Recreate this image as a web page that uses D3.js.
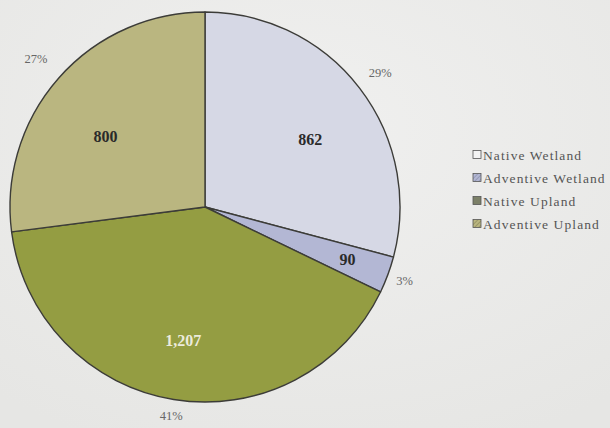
<!DOCTYPE html>
<html><head><meta charset="utf-8">
<script src="https://cdn.jsdelivr.net/npm/d3@7"></script>
<style>html,body{margin:0;padding:0;background:#ebebe9;}svg{display:block;}</style>
</head><body>
<svg id="c" width="610" height="428"></svg>
<script>
const categories = ["Native Wetland", "Adventive Wetland", "Native Upland", "Adventive Upland"];
const values = [862, 90, 1207, 800];
const valueLabels = ["862", "90", "1,207", "800"];
const percentLabels = ["29%", "3%", "41%", "27%"];

const fills = ["#d6d8e5", "#b3b7d4", "#949d42", "#bab680"];
const labelColors = ["#2a2a2a", "#2a2a2a", "#ecebdc", "#2a2a2a"];
const labelRadius = [125, 152, 135, 122];
const labelShiftDeg = [5, 0, 0, -6];
const pctRadius = [221, 213, 211, 225];

const svg = d3.select("#c");
const cx = 205, cy = 207, r = 195;

const defs = svg.append("defs");
const grad = defs.append("radialGradient").attr("id","bg").attr("cx","50%").attr("cy","30%").attr("r","80%");
grad.append("stop").attr("offset","0%").attr("stop-color","#f0f0ef");
grad.append("stop").attr("offset","100%").attr("stop-color","#e6e6e4");
svg.append("rect").attr("width",610).attr("height",428).attr("fill","url(#bg)");

function hatch(id, color, bg) {
  const p = defs.append("pattern").attr("id", id).attr("patternUnits","userSpaceOnUse")
    .attr("width",3).attr("height",3).attr("patternTransform","rotate(45)");
  p.append("rect").attr("width",3).attr("height",3).attr("fill",bg);
  p.append("line").attr("x1",0).attr("y1",0).attr("x2",0).attr("y2",3).attr("stroke",color).attr("stroke-width",0.8);
}
hatch("hw", "#6c708c", "#b3b7d4");
hatch("hu", "#6a6a40", "#bab680");

const pie = d3.pie().sort(null).value(d => d)(values);
const arc = d3.arc().innerRadius(0).outerRadius(r);
const g = svg.append("g").attr("transform", `translate(${cx},${cy})`);

g.selectAll("path.s").data(pie).join("path").attr("class","s")
  .attr("d", arc).attr("fill", (d,i) => fills[i])
  .attr("stroke", "#3c3c38").attr("stroke-width", 1.4).attr("stroke-linejoin","round");

const mid = d => (d.startAngle + d.endAngle) / 2;
const la = (d,i) => mid(d) + labelShiftDeg[i] * Math.PI / 180;
g.selectAll("text.v").data(pie).join("text").attr("class","v")
  .attr("x", (d,i) => Math.sin(la(d,i)) * labelRadius[i])
  .attr("y", (d,i) => -Math.cos(la(d,i)) * labelRadius[i])
  .attr("dy","0.35em").attr("text-anchor","middle")
  .attr("font-family","'Liberation Serif', 'DejaVu Serif', serif")
  .attr("font-weight","bold").attr("font-size",16)
  .attr("fill",(d,i) => labelColors[i])
  .text((d,i) => valueLabels[i]);

g.selectAll("text.p").data(pie).join("text").attr("class","p")
  .attr("x", (d,i) => Math.sin(mid(d)) * pctRadius[i])
  .attr("y", (d,i) => -Math.cos(mid(d)) * pctRadius[i])
  .attr("dy","0.35em").attr("text-anchor","middle")
  .attr("font-family","'Liberation Serif', 'DejaVu Serif', serif")
  .attr("font-size",12.5).attr("fill","#666")
  .text((d,i) => percentLabels[i]);

const legendFills = ["#f4f4f4", "url(#hw)", "#7c8068", "url(#hu)"];
const ly = d3.scalePoint().domain(categories).range([155, 224]);
const lg = svg.append("g");
const items = lg.selectAll("g").data(categories).join("g")
  .attr("transform", d => `translate(473,${ly(d)})`);
items.append("rect").attr("x",0).attr("y",-4.5).attr("width",8).attr("height",8)
  .attr("fill",(d,i)=>legendFills[i]).attr("stroke","#555").attr("stroke-width",0.8);
items.append("text").attr("x",10).attr("dy","0.35em")
  .attr("font-family","'Liberation Serif', 'DejaVu Serif', serif")
  .attr("font-size",13.5).attr("letter-spacing",1.1).attr("fill","#555")
  .text(d => d);
</script>
</body></html>
